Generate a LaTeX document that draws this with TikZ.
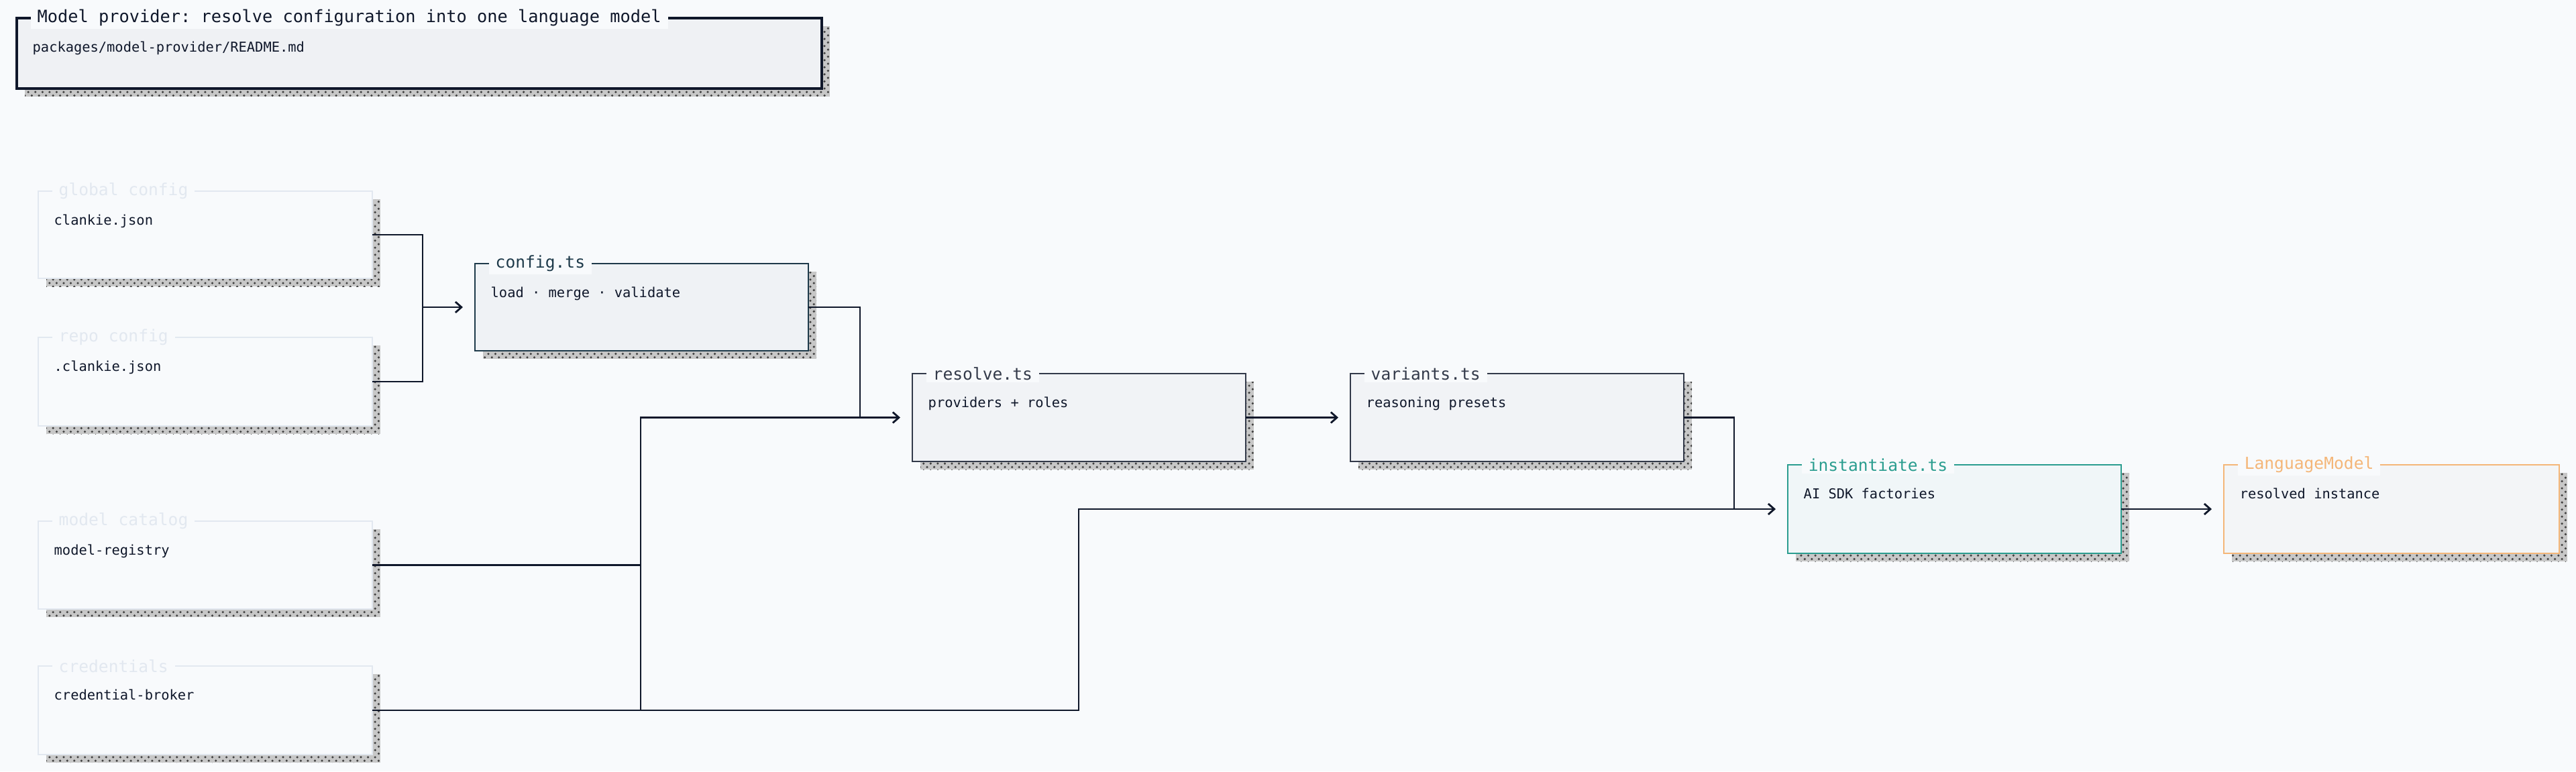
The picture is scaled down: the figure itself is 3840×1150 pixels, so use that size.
\documentclass[tikz,border=0pt]{standalone}
\usepackage{fontspec}
\setmonofont{DejaVu Sans Mono}
\usetikzlibrary{arrows.meta,patterns}
\definecolor{bg}{HTML}{F8FAFC}
\definecolor{ink}{HTML}{0F172A}
\definecolor{faint}{HTML}{E2E8F0}
\definecolor{slate}{HTML}{1E3A4A}
\definecolor{teal}{HTML}{2A9D8F}
\definecolor{orng}{HTML}{F4B678}
\tikzset{
  x=0.01cm, y=-0.01cm,
  shadow/.style={fill=black!22, postaction={pattern=crosshatch dots, pattern color=black!75}},
  titlebox/.style={draw=ink, line width=0.9pt, fill=ink!4!bg},
  titlelab/.style={text=ink, font=\ttfamily\fontsize{7.2}{8}\selectfont},
  inbox/.style={draw=faint, line width=0.6pt, fill=bg},
  inlab/.style={text=faint, font=\ttfamily\fontsize{7}{8}\selectfont},
  cfgbox/.style={draw=slate, line width=0.8pt, fill=slate!4!bg},
  cfglab/.style={text=slate, font=\ttfamily\fontsize{7}{8}\selectfont},
  resbox/.style={draw=ink!85, line width=0.8pt, fill=ink!3!bg},
  reslab/.style={text=ink!85, font=\ttfamily\fontsize{7}{8}\selectfont},
  tealbox/.style={draw=teal, line width=0.8pt, fill=teal!4!bg},
  teallab/.style={text=teal, font=\ttfamily\fontsize{7}{8}\selectfont},
  orbox/.style={draw=orng, line width=0.8pt, fill=gray!4!bg},
  orlab/.style={text=orng, font=\ttfamily\fontsize{7}{8}\selectfont},
  bodytxt/.style={text=ink, font=\ttfamily\fontsize{5.8}{7}\selectfont, inner sep=0pt},
  conn/.style={draw=ink, line width=0.8pt},
  arr/.style={conn, -{Straight Barb[length=0.09cm,width=0.16cm]}, shorten >=0.18cm},
}
% name x y w h boxstyle labstyle title body
\newcommand\mybox[9]{%
  \fill[shadow] ({#2+12},{#3+12}) rectangle ({#2+#4+12},{#3+#5+12});
  \node[#6, anchor=north west, inner sep=0pt, outer sep=0pt,
        minimum width=#4*0.01cm, minimum height=#5*0.01cm] (#1) at (#2,#3) {};
  \node[#7, anchor=west, fill=bg, inner xsep=0.1cm, inner ysep=1pt] (#1-t) at ({#2+20},#3) {#8};
  \node[bodytxt, anchor=base west] (#1-b) at ({#2+23},{#3+50}) {#9};
}
\begin{document}
\begin{tikzpicture}
\useasboundingbox[fill=bg] (0,0) rectangle (3840,1150);
\mybox{title}{25}{27}{1200}{105}{titlebox}{titlelab}{Model provider: resolve configuration into one language model}{packages/model-provider/README.md}
\mybox{global}{57}{285}{498}{130}{inbox}{inlab}{global config}{clankie.json}
\mybox{repo}{57}{503}{498}{132}{inbox}{inlab}{repo config}{.clankie.json}
\mybox{catalog}{57}{777}{498}{131}{inbox}{inlab}{model catalog}{model-registry}
\mybox{cred}{57}{993}{498}{132}{inbox}{inlab}{credentials}{credential-broker}
\mybox{config}{708}{393}{497}{130}{cfgbox}{cfglab}{config.ts}{load · merge · validate}
\mybox{resolve}{1360}{557}{497}{131}{resbox}{reslab}{resolve.ts}{providers + roles}
\mybox{variants}{2013}{557}{497}{131}{resbox}{reslab}{variants.ts}{reasoning presets}
\mybox{inst}{2665}{693}{497}{132}{tealbox}{teallab}{instantiate.ts}{AI SDK factories}
\mybox{lm}{3315}{693}{500}{132}{orbox}{orlab}{LanguageModel}{resolved instance}
\coordinate (j1) at (630,458);
\coordinate (j2) at (1282,622.5);
\coordinate (j3) at (955,622.5);
\coordinate (j4) at (1608,759);
\coordinate (j5) at (2585,759);
\draw[conn] (global.east) -| (j1);
\draw[conn] (repo.east) -| (j1);
\draw[arr] (j1) -- (config.west);
\draw[conn] (config.east) -| (j2);
\draw[arr] (j2) -- (resolve.west);
\draw[conn] (catalog.east) -| (j3) -- (j2);
\draw[conn] (cred.east) -| (j3);
\draw[arr] (cred.east) -| (j4) -- (inst.west);
\draw[arr] (resolve.east) -- (variants.west);
\draw[conn] (variants.east) -| (j5);
\draw[arr] (inst.east) -- (lm.west);
\end{tikzpicture}
\end{document}
